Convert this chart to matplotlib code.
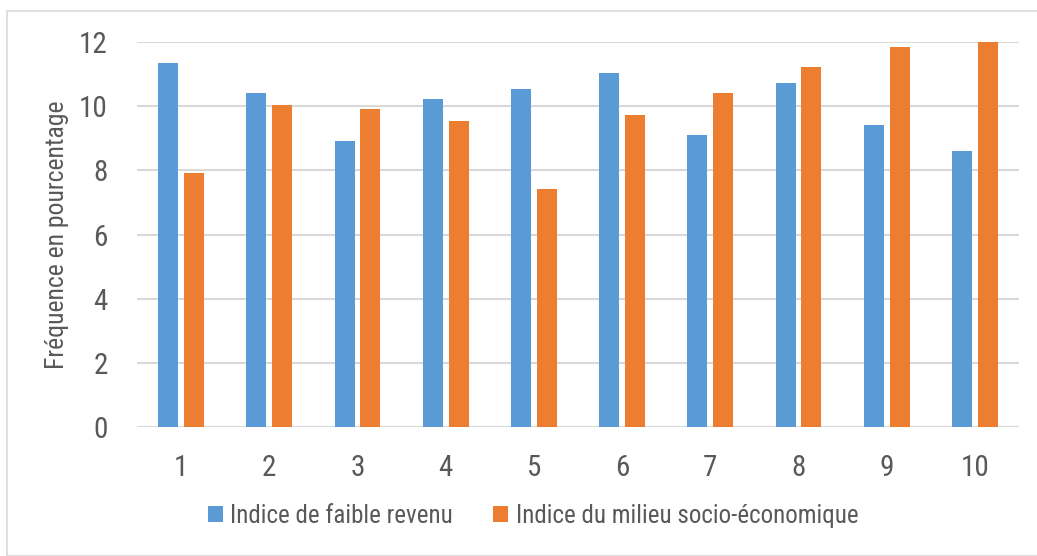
import matplotlib
matplotlib.use("Agg")
import matplotlib.pyplot as plt
import numpy as np
from matplotlib.patches import Rectangle

categories = ["1", "2", "3", "4", "5", "6", "7", "8", "9", "10"]
faible_revenu = [11.35, 10.41, 8.92, 10.23, 10.54, 11.04, 9.11, 10.73, 9.42, 8.61]
milieu_socio = [7.92, 10.04, 9.92, 9.54, 7.42, 9.73, 10.41, 11.23, 11.85, 12.04]
series_names = ["Indice de faible revenu", "Indice du milieu socio-économique"]
yticks = [0, 2, 4, 6, 8, 10, 12]

plt.rcParams['font.family'] = ['Roboto Condensed', 'Liberation Sans', 'DejaVu Sans']
txt = '#595959'

fig = plt.figure(figsize=(10.37, 5.56), dpi=100)
fig.patches.append(Rectangle((7/1037, 0), 1.2, (556-11)/556, transform=fig.transFigure,
                             fill=False, edgecolor='#D9D9D9', linewidth=1.2))
ax = fig.add_axes([137/1037, 1-427.3/556, (1019-137)/1037, (427.3-42)/556])

x = np.arange(len(categories))
w = 0.227
off = 0.147
ax.bar(x - off, faible_revenu, w, color='#5B9BD5', label=series_names[0], zorder=3)
ax.bar(x + off, milieu_socio, w, color='#ED7D31', label=series_names[1], zorder=3)

ax.set_xlim(-0.5, len(categories) - 0.5)
ax.set_ylim(0, 12)
ax.set_yticks(yticks)
ax.set_yticklabels([str(t) for t in yticks])
ax.set_xticks(x)
ax.set_xticklabels(categories)
ax.grid(axis='y', color='#D9D9D9', linewidth=1.5, zorder=0)
for s in ax.spines.values():
    s.set_visible(False)
ax.tick_params(axis='both', length=0, labelsize=21, colors=txt)
ax.tick_params(axis='y', pad=21)
ax.tick_params(axis='x', pad=19)
ax.set_ylabel("Fréquence en pourcentage", fontsize=18.5, color=txt)
ax.yaxis.set_label_coords(-0.077, 0.5)

leg = fig.legend(loc='center left', bbox_to_anchor=(208/1037, 1-516/556), ncol=2, frameon=False,
                 fontsize=18, handlelength=0.6, handleheight=0.6, handletextpad=0.3,
                 columnspacing=1.6, labelcolor=txt, borderaxespad=0, borderpad=0)

fig.savefig("out.png", dpi=100)
